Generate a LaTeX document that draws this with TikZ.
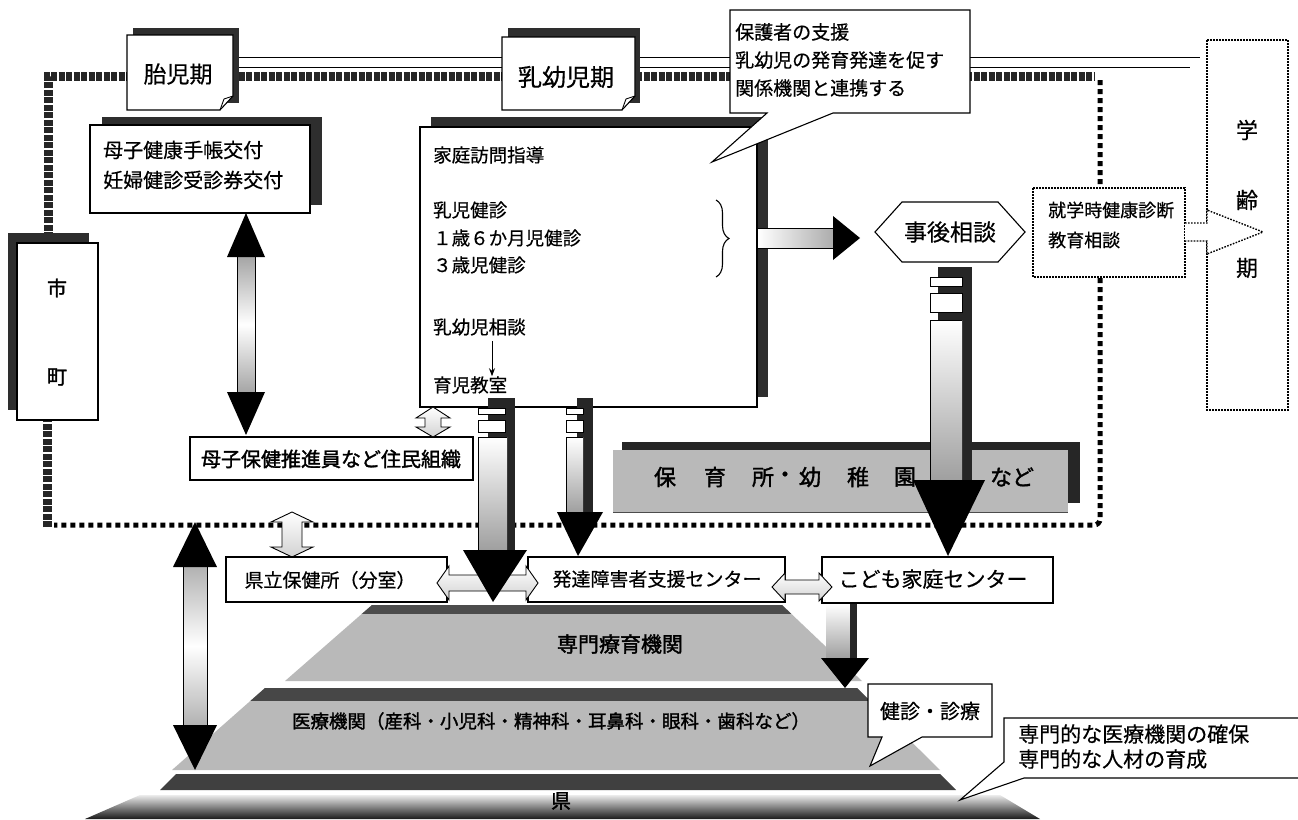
\documentclass[tikz,border=0pt]{standalone}
\usepackage{fontspec}
\newfontfamily\jp[FakeBold=0.5]{Noto Sans CJK JP}
\newfontfamily\jpb[FakeBold=1.6]{Noto Sans CJK JP}
\usetikzlibrary{arrows.meta,decorations.pathreplacing,calc}
\newcommand\jfs[1]{\fontsize{#1}{#1}\selectfont}
\begin{document}
\begin{tikzpicture}[x=1pt,y=-1pt,
  every node/.style={font=\jp\jfs{18}, inner sep=0pt, text=black},
  wbox/.style={draw=black, line width=1.1pt, fill=white},
  shad/.style={fill=black!82},
  chk/.style={line width=9pt, draw=black!85, dash pattern=on 6pt off 1.5pt},
  sqd/.style={line width=5pt, draw=black, dash pattern=on 5pt off 4pt},
  dotb/.style={draw=black, line width=1.4pt, dash pattern=on 1.6pt off 1.4pt, fill=white},
  thinl/.style={draw=black, line width=0.9pt},
  headb/.style={fill=black},
  stripe/.style={draw=black, fill=white, line width=0.8pt},
  shaft/.style={top color=white, bottom color=gray!75},
  layer/.style={fill=gray!55},
  wdbl/.style={draw=black, line width=0.9pt, top color=white, bottom color=gray!35}
]
\useasboundingbox (0,0) rectangle (1298,819);
\fill[white] (0,0) rectangle (1298,819);

% thin double lines
\draw[thinl] (238,57) -- (1200,57);
\draw[thinl] (238,67) -- (1190,67);
% municipal boundary
\draw[chk] (48,238) -- (48,76) -- (1094,76);
\draw[sqd, rounded corners=6pt] (1100,80) -- (1100,525) -- (54,525);
\draw[chk] (47,527) -- (47,418);

% tag: fetal period
\fill[shad] (133,28) rectangle (239,103);
\draw[wbox] (127,35) -- (233,35) -- (233,96) -- (220,110) -- (127,110) -- cycle;
\draw[thinl] (233,96) -- (224,99) -- (220,110);
\node (taiji) at (178,74) {\jfs{23}胎児期};

% tag: infant period
\fill[shad] (508,28) rectangle (640,103);
\draw[wbox] (502,37) -- (635,37) -- (635,96) -- (622,110) -- (502,110) -- cycle;
\draw[thinl] (635,96) -- (626,99) -- (622,110);
\node (nyuyoji) at (566,77) {\jfs{24}乳幼児期};

% maternal handbook box
\fill[shad] (102,117) rectangle (322,205);
\draw[wbox] (90,125) rectangle (310,213);
\node[anchor=west] (boshi1) at (103,150) {\jfs{20}母子健康手帳交付};
\node[anchor=west] (boshi2) at (103,180) {\jfs{20}妊婦健診受診券交付};

% home visit box
\fill[shad] (431,117) rectangle (768,397);
\draw[wbox] (420,127) rectangle (757,407);
\node[anchor=west] (katei) at (433,155) {\jfs{18.5}家庭訪問指導};
\node[anchor=west] (nyuji) at (433,210) {\jfs{18.5}乳児健診};
\node[anchor=west] (issai) at (433,238) {\jfs{18.5}１歳６か月児健診};
\node[anchor=west] (sansai) at (433,265) {\jfs{18.5}３歳児健診};
\node[anchor=west] (soudan) at (433,327) {\jfs{18.5}乳幼児相談};
\node[anchor=west] (ikuji) at (433,385) {\jfs{18.5}育児教室};
\draw[-{Stealth[length=8pt,width=6pt]}, line width=1pt] (soudan.south -| 492,0) ++(0,5) -- (ikuji.north -| 492,0);

% callout top
\draw[wbox] (730,10) -- (970,10) -- (970,113) -- (833,113) -- (712,162) -- (767,113) -- (730,113) -- cycle;
\node[anchor=west] (hogo1) at (735,32) {\jfs{19}保護者の支援};
\node[anchor=west] (hogo2) at (735,60) {\jfs{19}乳幼児の発育発達を促す};
\node[anchor=west] (hogo3) at (735,88) {\jfs{19}関係機関と連携する};

% city / town box
\fill[shad] (8,233) rectangle (89,410);
\draw[wbox] (17,243) rectangle (98,420);
\node (shi) at (57,288) {\jpb\jfs{20}市};
\node (cho) at (57,377) {\jpb\jfs{20}町};

% brace and arrow to follow-up consultation
\draw[line width=1.1pt, decorate, decoration={brace, amplitude=13pt}] (716,200) -- (716,277);
\shade[left color=white, right color=gray!65] (758,228) rectangle (833,248);
\draw[thinl] (758,228) -- (833,228) (758,248) -- (833,248);
\fill[headb] (833,216) -- (860,238) -- (833,260) -- cycle;

% follow-up consultation hexagon
\draw[wbox] (875,232) -- (902,202) -- (998,202) -- (1025,232) -- (998,262) -- (902,262) -- cycle;
\node (jigo) at (950,232) {\jfs{23}事後相談};

% school age
\draw[dotb] (1033,188) rectangle (1185,277);
\node[anchor=west] (shugaku1) at (1048,210) {\jfs{18}就学時健康診断};
\node[anchor=west] (shugaku2) at (1048,240) {\jfs{18}教育相談};
\draw[dotb] (1207,40) rectangle (1288,410);
\draw[dotb] (1185,223) -- (1207,223) -- (1207,210) -- (1263,232) -- (1207,254) -- (1207,241) -- (1185,241);
\node (gaku) at (1247,130) {\jfs{22}学};
\node (rei) at (1247,200) {\jfs{22}齢};
\node (ki) at (1247,268) {\jfs{22}期};

% nursery banner
\fill[black!85] (622,442) rectangle (1080,503);
\fill[gray!55] (613,450) rectangle (1068,512);
\draw[black!70, line width=0.8pt] (613,512) -- (1068,512);
\foreach \c/\x in {保/665,育/715,所/763,・/785,幼/810,稚/858,園/905}
  \node (hoiku\x) at (\x,477) {\jpb\jfs{22}\c};
\node (nado) at (1012,477) {\jpb\jfs{22}など};

% arrow C: follow-up -> children family centre
\fill[black!85] (938,267) rectangle (972,480);
\draw[stripe] (930,277) rectangle (962,286);
\draw[stripe] (930,293) rectangle (962,312);
\shade[shaft] (930,320) rectangle (962,480);
\draw[line width=0.8pt] (930,480) -- (930,320) -- (962,320);
\fill[headb] (913,480) -- (985,480) -- (948,556) -- cycle;

% residents organisation
\draw[wbox] (190,437) rectangle (473,480);
\node (jumin) at (331,459) {\jpb\jfs{20}母子保健推進員など住民組織};

% grey double arrow handbook <-> residents
\shade[top color=gray!70, bottom color=gray!70, middle color=white] (237,257) rectangle (255,392);
\draw[thinl] (237,257) -- (237,392) (255,257) -- (255,392);
\fill[headb] (246,213) -- (265,257) -- (227,257) -- cycle;
\fill[headb] (246,435) -- (265,392) -- (227,392) -- cycle;

% small white double arrows
\shadedraw[wdbl] (433,407) -- (450,418) -- (441,418) -- (441,427) -- (450,427) -- (433,437) -- (416,427) -- (425,427) -- (425,418) -- (416,418) -- cycle;
\shadedraw[wdbl] (292,512) -- (313,522) -- (302,522) -- (302,547) -- (313,547) -- (292,557) -- (271,547) -- (282,547) -- (282,522) -- (271,522) -- cycle;

% pyramid layers
\fill[layer] (372,605) -- (782,605) -- (862,681) -- (285,681) -- cycle;
\begin{scope}
  \clip (372,605) -- (782,605) -- (862,681) -- (285,681) -- cycle;
  \fill[black!70] (250,605) rectangle (900,614);
\end{scope}
\fill[layer] (265,688) -- (857,688) -- (940,770) -- (172,770) -- cycle;
\begin{scope}
  \clip (265,688) -- (857,688) -- (940,770) -- (172,770) -- cycle;
  \fill[black!72] (150,688) rectangle (950,701);
\end{scope}
\fill[black!75] (176,774) -- (940,774) -- (956,790) -- (160,790) -- cycle;
\shade[top color=gray!15, bottom color=black!90] (140,795) -- (1000,795) -- (1040,819) -- (85,819) -- cycle;
\node (senmon) at (620,644) {\jpb\jfs{21}専門療育機関};
\node (iryo) at (551,721) {\jpb\jfs{18.5}医療機関（産科・小児科・精神科・耳鼻科・眼科・歯科など）};
\node (ken) at (561,801) {\jpb\jfs{20}県};

% lower institution boxes
\draw[wbox] (226,557) rectangle (447,602);
\node (kenritsu) at (330,580) {\jfs{19}県立保健所（分室）};
\draw[wbox] (528,557) rectangle (785,602);
\node (hattatsu) at (657,579) {\jfs{19}発達障害者支援センター};
\draw[wbox] (822,557) rectangle (1053,603);
\node (kodomo) at (933,579) {\jfs{21}こども家庭センター};

% horizontal white double arrows
\shadedraw[wdbl] (437,583) -- (449,566) -- (449,575) -- (526,575) -- (526,566) -- (538,583) -- (526,600) -- (526,591) -- (449,591) -- (449,600) -- cycle;
\shadedraw[wdbl] (772,587) -- (785,573) -- (785,580) -- (819,580) -- (819,573) -- (832,587) -- (819,601) -- (819,594) -- (785,594) -- (785,601) -- cycle;

% arrow A
\fill[black!85] (488,398) rectangle (515,550);
\draw[stripe] (478,408) rectangle (505,414);
\draw[stripe] (478,420) rectangle (505,432);
\shade[shaft] (478,437) rectangle (507,550);
\draw[line width=0.8pt] (478,550) -- (478,437) -- (507,437);
\fill[headb] (463,550) -- (527,550) -- (493,602) -- cycle;

% arrow B
\fill[black!85] (577,398) rectangle (593,512);
\draw[stripe] (566,408) rectangle (583,414);
\draw[stripe] (566,420) rectangle (583,432);
\shade[shaft] (566,437) rectangle (583,512);
\draw[line width=0.8pt] (566,512) -- (566,437) -- (583,437);
\fill[headb] (557,512) -- (603,512) -- (578,556) -- cycle;

% arrow D: centre -> specialised institutions
\shade[shaft] (826,604) rectangle (850,658);
\fill[black!85] (850,604) rectangle (857,658);
\fill[headb] (821,658) -- (869,658) -- (845,688) -- cycle;

% left big double arrow
\shade[top color=gray!60, bottom color=gray!60, middle color=white] (183,567) rectangle (207,725);
\draw[thinl] (183,567) -- (183,725) (207,567) -- (207,725);
\fill[headb] (195,522) -- (217,567) -- (173,567) -- cycle;
\fill[headb] (195,770) -- (217,725) -- (173,725) -- cycle;

% callouts bottom
\draw[wbox] (868,684) -- (992,684) -- (992,737) -- (922,737) -- (870,766) -- (882,737) -- (868,737) -- cycle;
\node (kenshin) at (930,711) {\jfs{20}健診・診療};
\draw[wbox] (1004,718) -- (1310,718) -- (1310,778) -- (1024,778) -- (960,800) -- (1004,762) -- cycle;
\node[anchor=west] (kakuho) at (1018,734) {\jfs{21}専門的な医療機関の確保};
\node[anchor=west] (ikusei) at (1018,759) {\jfs{21}専門的な人材の育成};
\end{tikzpicture}
\end{document}
